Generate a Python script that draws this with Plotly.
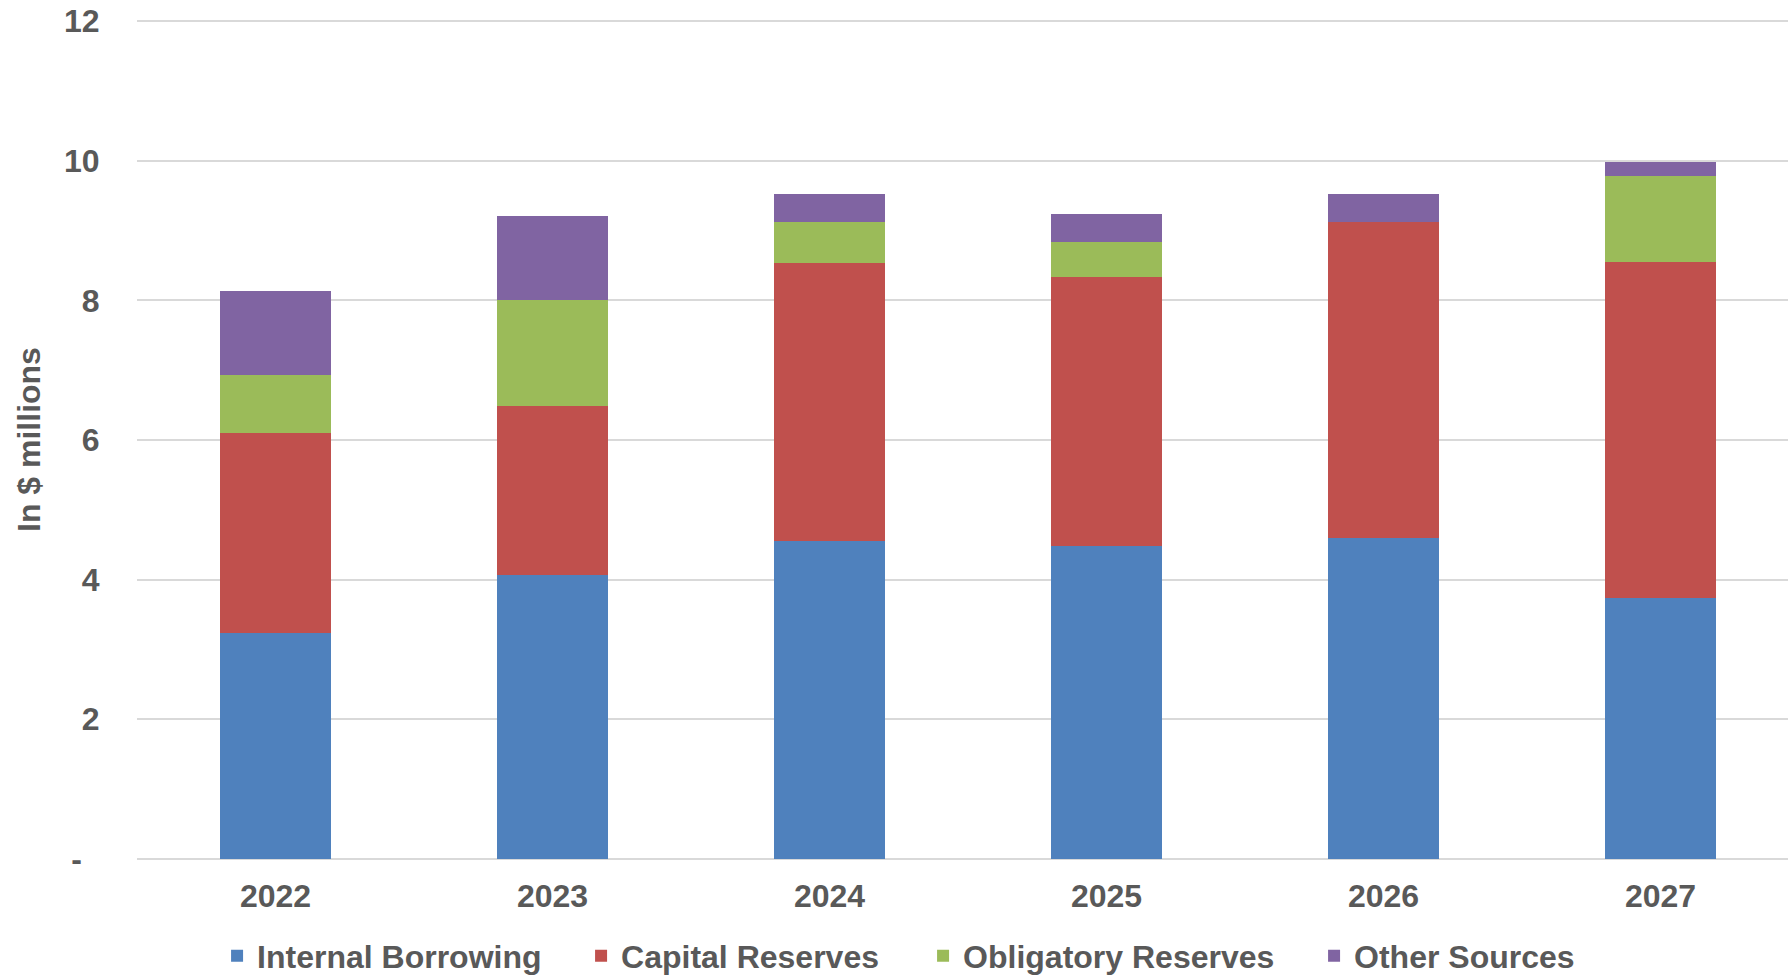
import plotly.graph_objects as go

years = ["2022", "2023", "2024", "2025", "2026", "2027"]
internal_borrowing = [3.23, 4.07, 4.55, 4.48, 4.60, 3.74]
capital_reserves = [2.87, 2.41, 3.99, 3.85, 4.52, 4.81]
obligatory_reserves = [0.83, 1.53, 0.58, 0.51, 0.00, 1.23]
other_sources = [1.20, 1.20, 0.40, 0.40, 0.40, 0.20]

y_tickvals = [0, 2, 4, 6, 8, 10, 12]
y_ticktext = ["-\u00a0\u00a0", "2", "4", "6", "8", "10", "12"]

series = [
    ("Internal Borrowing", internal_borrowing, "#4F81BD", 319),
    ("Capital Reserves", capital_reserves, "#C0504D", 297),
    ("Obligatory Reserves", obligatory_reserves, "#9BBB59", 346),
    ("Other Sources", other_sources, "#8064A2", 260),
]

FONT = "Liberation Sans, Arial, sans-serif"
TXT = "#595959"
FS = 32

fig = go.Figure()
for name, vals, color, lw in series:
    fig.add_trace(go.Bar(
        x=years, y=vals, name=name,
        marker=dict(color=color, line=dict(width=0)),
        legendwidth=lw,
    ))

fig.update_layout(
    width=1788, height=976,
    barmode="stack", bargap=0.597,
    plot_bgcolor="white", paper_bgcolor="white",
    margin=dict(l=137, r=0, t=18.6, b=115, pad=0, autoexpand=False),
    font=dict(family=FONT, size=FS, color=TXT, weight="bold"),
    showlegend=True,
    legend=dict(
        orientation="h", x=0.0485, xanchor="left", y=-0.1128, yanchor="middle",
        font=dict(family=FONT, size=FS, color=TXT, weight="bold"),
        traceorder="normal", itemclick=False,
    ),
)
fig.update_xaxes(
    type="category", range=[-0.5, 5.46], automargin=False,
    showgrid=False, showline=False, zeroline=False,
    ticks="outside", ticklen=7, tickcolor="rgba(0,0,0,0)",
    tickfont=dict(family=FONT, size=FS, color=TXT, weight="bold"),
)
fig.update_yaxes(
    range=[-0.03, 12.03], tickvals=y_tickvals, ticktext=y_ticktext,
    automargin=False,
    showgrid=True, gridcolor="#D9D9D9", gridwidth=1.5,
    zeroline=False, showline=False,
    ticks="outside", ticklen=30, tickcolor="rgba(0,0,0,0)",
    tickfont=dict(family=FONT, size=FS, color=TXT, weight="bold"),
)
fig.add_annotation(
    text="In $ millions", textangle=-90,
    xref="paper", yref="paper", x=(29 - 137) / 1651, y=0.5,
    xanchor="center", yanchor="middle", showarrow=False,
    font=dict(family=FONT, size=FS, color=TXT, weight="bold"),
)

fig.write_html(
    "out.html",
    config={"displayModeBar": False},
    post_script="document.body.style.margin='0px';document.body.style.overflow='hidden';",
)
